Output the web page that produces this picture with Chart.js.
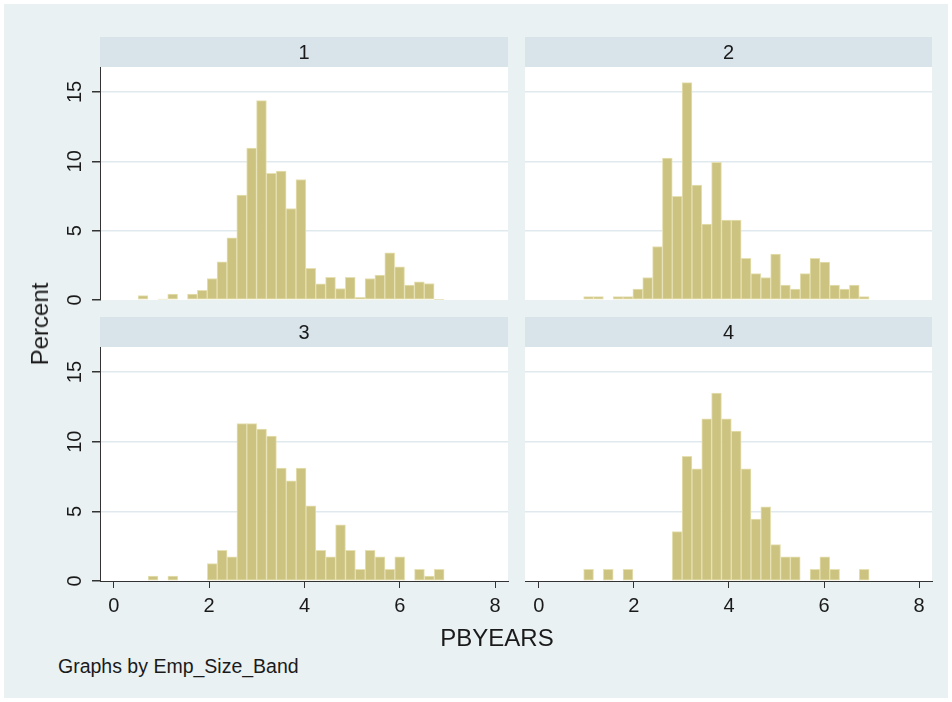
<!DOCTYPE html>
<html>
<head>
<meta charset="utf-8">
<title>PBYEARS by Emp_Size_Band</title>
<script src="https://cdn.jsdelivr.net/npm/chart.js@4/dist/chart.umd.min.js"></script>
<style>
  html, body { margin: 0; padding: 0; background: #ffffff; }
  #frame {
    position: absolute; left: 4px; top: 4px; width: 944px; height: 694px;
    background: #eaf1f3; overflow: hidden;
    font-family: 'Liberation Sans', Arial, sans-serif; color: #1a1a1a;
  }
  canvas { position: absolute; }
  .lbl { position: absolute; white-space: nowrap; line-height: 1; }
</style>
</head>
<body>
<div id="frame">
  <canvas id="panel1" width="470" height="280"></canvas>
  <canvas id="panel2" width="430" height="280"></canvas>
  <canvas id="panel3" width="470" height="320"></canvas>
  <canvas id="panel4" width="430" height="320"></canvas>
  <div class="lbl" id="ytitle">Percent</div>
  <div class="lbl" id="xtitle">PBYEARS</div>
  <div class="lbl" id="note">Graphs by Emp_Size_Band</div>
</div>
<script>
// Histograms of PBYEARS, one panel per Emp_Size_Band
(function() {
  'use strict';

  // Panel labels (Emp_Size_Band)
  var bandLabels = ['1', '2', '3', '4'];

  // Histogram bins: common width, per-panel start (PBYEARS)
  var binWidth = 0.207;
  var binStart = [0.51, 0.944, 0.72, 0.944];

  // Percent per bin
  var band1Pct = [0.31, 0, 0.07, 0.43, 0, 0.43, 0.69, 1.55, 2.76, 4.48, 7.57, 10.95, 14.38, 9.14, 9.29, 6.6,
    8.69, 2.29, 1.17, 1.64, 0.83, 1.64, 0.19, 1.55, 1.79, 3.4, 2.4, 1.07, 1.31, 1.19, 0.05];
  var band2Pct = [0.24, 0.24, 0, 0.24, 0.24, 0.79, 1.62, 3.86, 10.24, 7.48, 15.67, 8.29, 5.48, 9.93, 5.76,
    5.76, 3.0, 1.9, 1.62, 3.31, 1.07, 0.79, 1.9, 3.0, 2.74, 1.07, 0.79, 1.07, 0.24];
  var band3Pct = [0.36, 0, 0.36, 0, 0, 0, 1.25, 2.2, 1.73, 11.3, 11.3, 10.9, 10.4, 8.1, 7.2, 8.1, 5.4, 2.2,
    1.73, 4.03, 2.2, 0.84, 2.2, 1.73, 0.84, 1.73, 0, 0.84, 0.36, 0.84];
  var band4Pct = [0.84, 0, 0.84, 0, 0.84, 0, 0, 0, 0, 3.55, 8.95, 8.05, 11.65, 13.5, 11.65, 10.77, 8.05, 4.44,
    5.32, 2.61, 1.73, 1.73, 0, 0.84, 1.73, 0.84, 0, 0, 0.84];

  // Axis ticks
  var xTicks = [0, 2, 4, 6, 8];
  var yTicks = [0, 5, 10, 15];

  var FONT = "'Liberation Sans', Arial, sans-serif";
  var barFill = 'rgb(204, 195, 128)';
  var barEdge = 'rgb(230, 224, 178)';
  var gridColor = '#dfe9ee';
  var stripColor = '#d8e4ea';
  var inkColor = '#1a1a1a';

  // Place the html canvases
  function place(id, left, top, w, h) {
    var el = document.getElementById(id);
    el.style.left = left + 'px';
    el.style.top = top + 'px';
    el.style.width = w + 'px';
    el.style.height = h + 'px';
  }
  place('panel1', 46, 26, 470, 280);
  place('panel2', 511, 26, 430, 280);
  place('panel3', 46, 306, 470, 320);
  place('panel4', 511, 306, 430, 320);

  // Plot background + title strip above each panel
  var stripPlugin = {
    id: 'panelStrip',
    beforeDraw: function(chart) {
      var a = chart.chartArea;
      var ctx = chart.ctx;
      ctx.save();
      ctx.fillStyle = '#ffffff';
      ctx.fillRect(a.left, a.top, a.right - a.left, a.bottom - a.top);
      ctx.fillStyle = stripColor;
      ctx.fillRect(a.left, a.top - 30, a.right - a.left, 30);
      ctx.fillStyle = inkColor;
      ctx.font = '20px ' + FONT;
      ctx.textAlign = 'center';
      ctx.textBaseline = 'middle';
      ctx.fillText(chart.options.plugins.panelStrip.text, (a.left + a.right) / 2, a.top - 14);
      ctx.restore();
    }
  };

  function makePanel(id, label, start, values, showY, showX) {
    var canvas = document.getElementById(id);
    if (!canvas || !window.Chart) return null;

    var points = values.map(function(v, i) {
      return { x: start + (i + 0.5) * binWidth, y: v };
    });

    return new Chart(canvas.getContext('2d'), {
      type: 'bar',
      data: {
        datasets: [{
          label: 'Percent',
          data: points,
          backgroundColor: barFill,
          borderColor: barEdge,
          borderWidth: 1,
          borderSkipped: false,
          barPercentage: 1,
          categoryPercentage: 1
        }]
      },
      options: {
        responsive: false,
        animation: false,
        layout: {
          padding: { top: 37, right: showY ? 12 : 13, bottom: showX ? 0 : 10, left: showY ? 0 : 10 }
        },
        plugins: {
          legend: { display: false },
          tooltip: { enabled: false },
          panelStrip: { text: label }
        },
        scales: {
          x: {
            type: 'linear',
            display: showX,
            offset: false,
            min: -0.29,
            max: 8.27,
            afterBuildTicks: function(scale) {
              scale.ticks = xTicks.map(function(v) { return { value: v }; });
            },
            afterFit: function(scale) { scale.height = showX ? 49 : 0; },
            grid: {
              offset: false,
              drawOnChartArea: false,
              drawTicks: true,
              tickLength: 7,
              tickColor: '#333333'
            },
            border: { display: true, color: '#333333', width: 1 },
            ticks: {
              color: inkColor,
              padding: 6,
              maxRotation: 0,
              font: { family: FONT, size: 20 }
            }
          },
          y: {
            min: 0,
            max: 16.8,
            afterBuildTicks: function(scale) {
              scale.ticks = yTicks.map(function(v) { return { value: v }; });
            },
            afterFit: function(scale) {
              scale.width = showY ? 50 : 0;
              // rotated labels would otherwise push the plot bottom up
              scale.paddingTop = 0;
              scale.paddingBottom = 0;
            },
            grid: {
              color: function(ctx) { return ctx.tick && ctx.tick.value === 0 ? 'rgba(0,0,0,0)' : gridColor; },
              lineWidth: 1.5,
              drawTicks: showY,
              tickLength: 8,
              tickColor: '#333333'
            },
            border: { display: showY, color: '#333333', width: 1 },
            ticks: {
              display: showY,
              color: inkColor,
              padding: 5,
              minRotation: 90,
              maxRotation: 90,
              crossAlign: 'center',
              font: { family: FONT, size: 20 }
            }
          }
        }
      },
      plugins: [stripPlugin]
    });
  }

  makePanel('panel1', bandLabels[0], binStart[0], band1Pct, true, false);
  makePanel('panel2', bandLabels[1], binStart[1], band2Pct, false, false);
  makePanel('panel3', bandLabels[2], binStart[2], band3Pct, true, true);
  makePanel('panel4', bandLabels[3], binStart[3], band4Pct, false, true);

  // Shared titles
  var yt = document.getElementById('ytitle');
  yt.style.font = '24px ' + FONT;
  yt.style.left = '36px';
  yt.style.top = '320px';
  yt.style.transform = 'translate(-50%, -50%) rotate(-90deg)';

  var xt = document.getElementById('xtitle');
  xt.style.font = '24px ' + FONT;
  xt.style.left = '493px';
  xt.style.top = '634px';
  xt.style.transform = 'translate(-50%, -50%)';

  var nt = document.getElementById('note');
  nt.style.font = '19.5px ' + FONT;
  nt.style.left = '54px';
  nt.style.top = '651px';
})();
</script>
</body>
</html>
